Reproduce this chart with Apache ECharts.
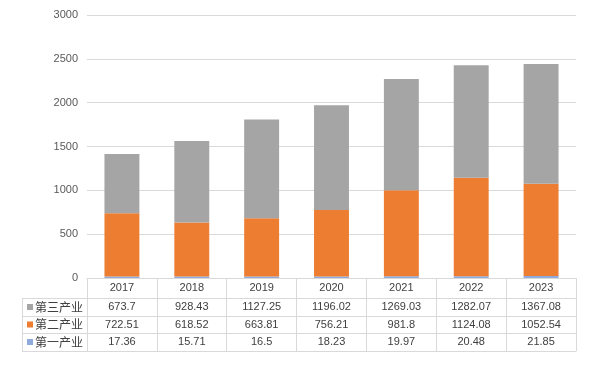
<!DOCTYPE html>
<html><head><meta charset="utf-8">
<script src="https://cdn.jsdelivr.net/npm/echarts@6/dist/echarts.min.js"></script>
<style>html,body{margin:0;padding:0;background:#fff}#c{width:591px;height:367px}</style>
</head><body><div id="c"></div>
<script>
const years = ['2017','2018','2019','2020','2021','2022','2023'];
const tertiary = [673.7, 928.43, 1127.25, 1196.02, 1269.03, 1282.07, 1367.08];
const secondary = [722.51, 618.52, 663.81, 756.21, 981.8, 1124.08, 1052.54];
const primary = [17.36, 15.71, 16.5, 18.23, 19.97, 20.48, 21.85];
const seriesNames = ['第三产业', '第二产业', '第一产业'];
const yTicks = [0, 500, 1000, 1500, 2000, 2500, 3000];

const colors = {'第一产业':'#8FAADC','第二产业':'#ED7D31','第三产业':'#A5A5A5'};
const lineColor = '#D9D9D9';
const numFont = 'Liberation Sans, Arial, sans-serif';
const cjkFont = 'Noto Sans CJK SC, sans-serif';
const textColor = '#404040';

function rowAxis(data, offset, margin, showLabel) {
  return {
    type: 'category', gridIndex: 0, position: 'bottom', offset: offset,
    data: data,
    axisLine: {show: true, lineStyle: {color: lineColor, width: 1}},
    axisTick: {show: false},
    axisLabel: {show: showLabel, interval: 0, margin: margin, verticalAlign: 'middle',
      color: textColor, fontFamily: numFont, fontSize: 11},
    splitLine: {show: false}
  };
}

const chart = echarts.init(document.getElementById('c'), null, {renderer: 'canvas'});

const rowTops = [298, 316, 333];
const rowBottoms = [316, 333, 351];
const graphics = [];
[298, 316, 333, 351].forEach(y => graphics.push({type:'line', shape:{x1:22, y1:y+0.5, x2:87, y2:y+0.5}, style:{stroke:lineColor, lineWidth:1}, silent:true}));
graphics.push({type:'line', shape:{x1:22.5, y1:298, x2:22.5, y2:351}, style:{stroke:lineColor, lineWidth:1}, silent:true});
seriesNames.forEach((n, i) => {
  const cy = (rowTops[i] + rowBottoms[i]) / 2;
  graphics.push({type:'rect', shape:{x:27, y:cy-3, width:6, height:6}, style:{fill:colors[n]}, silent:true});
  graphics.push({type:'text', x:35, y:cy, style:{text:n, fill:textColor, font:'12px ' + cjkFont, verticalAlign:'middle', align:'left'}, silent:true});
});

const option = {
  animation: false,
  backgroundColor: '#fff',
  grid: {left: 87, right: 15, top: 15, bottom: 89, containLabel: false},
  xAxis: [
    {
      type: 'category', data: years, position: 'bottom',
      axisLine: {show: true, lineStyle: {color: lineColor}},
      axisTick: {show: true, interval: 0, length: 73, lineStyle: {color: lineColor}},
      axisLabel: {interval: 0, margin: 10, verticalAlign: 'middle', color: textColor, fontFamily: numFont, fontSize: 11}
    },
    rowAxis(tertiary.map(String), 20, 9, true),
    rowAxis(secondary.map(String), 38, 8.5, true),
    rowAxis(primary.map(String), 55, 9, true),
    rowAxis(years.map(() => ''), 73, 5, false)
  ],
  yAxis: {
    type: 'value', min: yTicks[0], max: yTicks[yTicks.length-1], interval: 500,
    axisLine: {show: false}, axisTick: {show: false},
    axisLabel: {margin: 9, color: '#595959', fontFamily: numFont, fontSize: 11, formatter: v => String(v)},
    splitLine: {lineStyle: {color: lineColor}}
  },
  series: [
    {name: '第一产业', type: 'bar', stack: 'a', data: primary, barWidth: '50%', itemStyle: {color: colors['第一产业']}},
    {name: '第二产业', type: 'bar', stack: 'a', data: secondary, barWidth: '50%', itemStyle: {color: colors['第二产业']}},
    {name: '第三产业', type: 'bar', stack: 'a', data: tertiary, barWidth: '50%', itemStyle: {color: colors['第三产业']}}
  ],
  graphic: graphics
};
chart.setOption(option);
</script></body></html>
